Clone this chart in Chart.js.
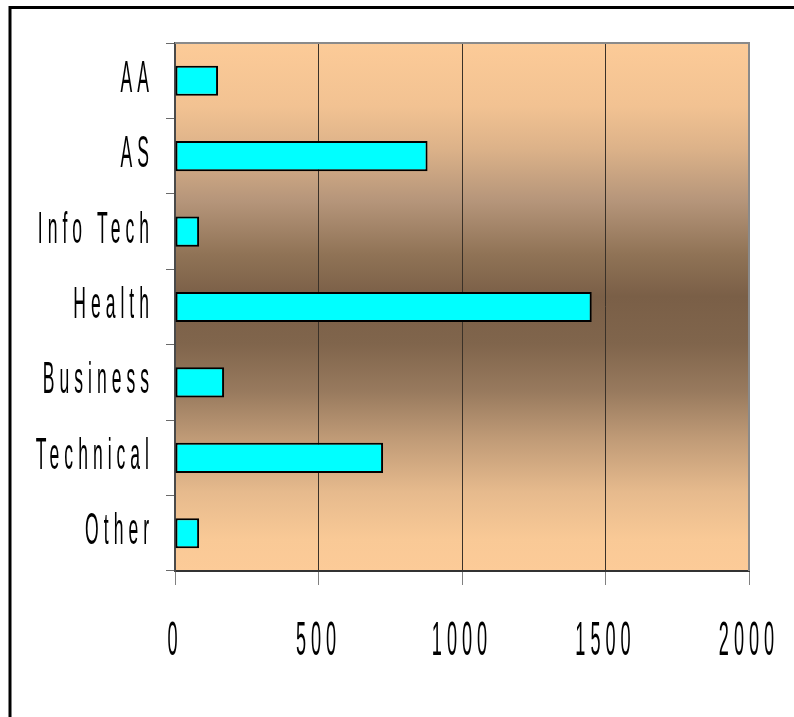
<!DOCTYPE html>
<html>
<head>
<meta charset="utf-8">
<script src="https://cdn.jsdelivr.net/npm/chart.js@4.4.0/dist/chart.umd.min.js"></script>
<style>
  html, body { margin: 0; padding: 0; background: #fff; }
</style>
</head>
<body>
<canvas id="chart" width="794" height="717"></canvas>
<script>
// values
const categories = ['AA', 'AS', 'Info Tech', 'Health', 'Business', 'Technical', 'Other'];
const counts = [150, 880, 84, 1452, 171, 725, 84];
const xTicks = [0, 500, 1000, 1500, 2000];

// the labels in the original are a very condensed, spaced out face
const SPACING = 5;

function drawSqueezed(ctx, text, x, y, size, squeeze, align) {
  ctx.save();
  ctx.font = size + 'px "Liberation Sans", Arial, sans-serif';
  ctx.letterSpacing = (SPACING / squeeze) + 'px';
  ctx.fillStyle = '#000';
  ctx.textAlign = align;
  ctx.textBaseline = 'alphabetic';
  ctx.translate(x, y);
  ctx.scale(squeeze, 1);
  ctx.fillText(text, 0, 0);
  ctx.restore();
}

const backdrop = {
  id: 'backdrop',
  beforeDraw(chart) {
    const { ctx, chartArea: a } = chart;
    const g = ctx.createLinearGradient(0, a.top, 0, a.bottom);
    // light peach -> dark brown -> light peach, soft at both ends
    g.addColorStop(0, '#FCCB98');
    g.addColorStop(0.12, '#F2C292');
    g.addColorStop(0.2, '#DCB289');
    g.addColorStop(0.3, '#B5957A');
    g.addColorStop(0.4, '#907356');
    g.addColorStop(0.48, '#7A5F47');
    g.addColorStop(0.57, '#80654C');
    g.addColorStop(0.66, '#987A5E');
    g.addColorStop(0.75, '#C09B77');
    g.addColorStop(0.85, '#E6BA8D');
    g.addColorStop(0.94, '#F9C996');
    g.addColorStop(1, '#FCCB98');
    ctx.save();
    ctx.fillStyle = g;
    ctx.fillRect(a.left, a.top, a.right - a.left, a.bottom - a.top);
    ctx.restore();
  },
  afterDraw(chart) {
    const { ctx, chartArea: a } = chart;
    const x = chart.scales.x;
    const y = chart.scales.y;
    ctx.save();
    // top and right edge of the plot
    ctx.strokeStyle = '#8a8a8a';
    ctx.lineWidth = 2;
    ctx.beginPath();
    ctx.moveTo(a.left, a.top);
    ctx.lineTo(a.right, a.top);
    ctx.lineTo(a.right, a.bottom);
    ctx.stroke();
    // outer frame (only top + left show in the picture)
    ctx.strokeStyle = '#000';
    ctx.lineWidth = 3;
    ctx.beginPath();
    ctx.moveTo(10, 717);
    ctx.lineTo(10, 7.5);
    ctx.lineTo(794, 7.5);
    ctx.stroke();
    ctx.restore();

    y.ticks.forEach((t, i) => {
      drawSqueezed(ctx, categories[i], 154, y.getPixelForTick(i) + 11, 45, 0.39, 'right');
    });
    xTicks.forEach(v => {
      drawSqueezed(ctx, String(v), x.getPixelForValue(v), 655, 49, 0.37, 'center');
    });
  }
};

const canvas = document.getElementById('chart');
const config = {
  type: 'bar',
  data: {
    labels: categories,
    datasets: [{
      data: counts,
      backgroundColor: '#00FFFF',
      borderColor: '#000',
      borderWidth: 2,
      borderSkipped: false,
      barPercentage: 0.8,
      categoryPercentage: 0.5
    }]
  },
  plugins: [backdrop],
  options: {
    indexAxis: 'y',
    responsive: false,
    animation: false,
    layout: {
      padding: { left: 175, top: 43, right: 45, bottom: 146 }
    },
    plugins: {
      legend: { display: false },
      tooltip: { enabled: false }
    },
    scales: {
      x: {
        min: 0,
        max: 2000,
        afterBuildTicks(scale) {
          scale.ticks = xTicks.map(v => ({ value: v }));
        },
        afterFit(scale) { scale.height = 0; },
        ticks: { display: false },
        border: { display: true, color: '#333', width: 2 },
        grid: {
          color(ctx) {
            const v = ctx.tick && ctx.tick.value;
            if (v === 0 || v === 2000) return 'rgba(0,0,0,0)';
            return '#3a3128';
          },
          lineWidth: 1,
          drawTicks: true,
          tickLength: 14,
          tickColor: '#808080',
          tickWidth: 1
        }
      },
      y: {
        afterFit(scale) { scale.width = 0; },
        ticks: { display: false },
        border: { display: true, color: '#4a4a4a', width: 2 },
        grid: {
          drawOnChartArea: false,
          drawTicks: true,
          tickLength: 9,
          tickColor: '#6a6a6a',
          tickWidth: 1
        }
      }
    }
  }
};

const chart = new Chart(canvas, config);
</script>
</body>
</html>
